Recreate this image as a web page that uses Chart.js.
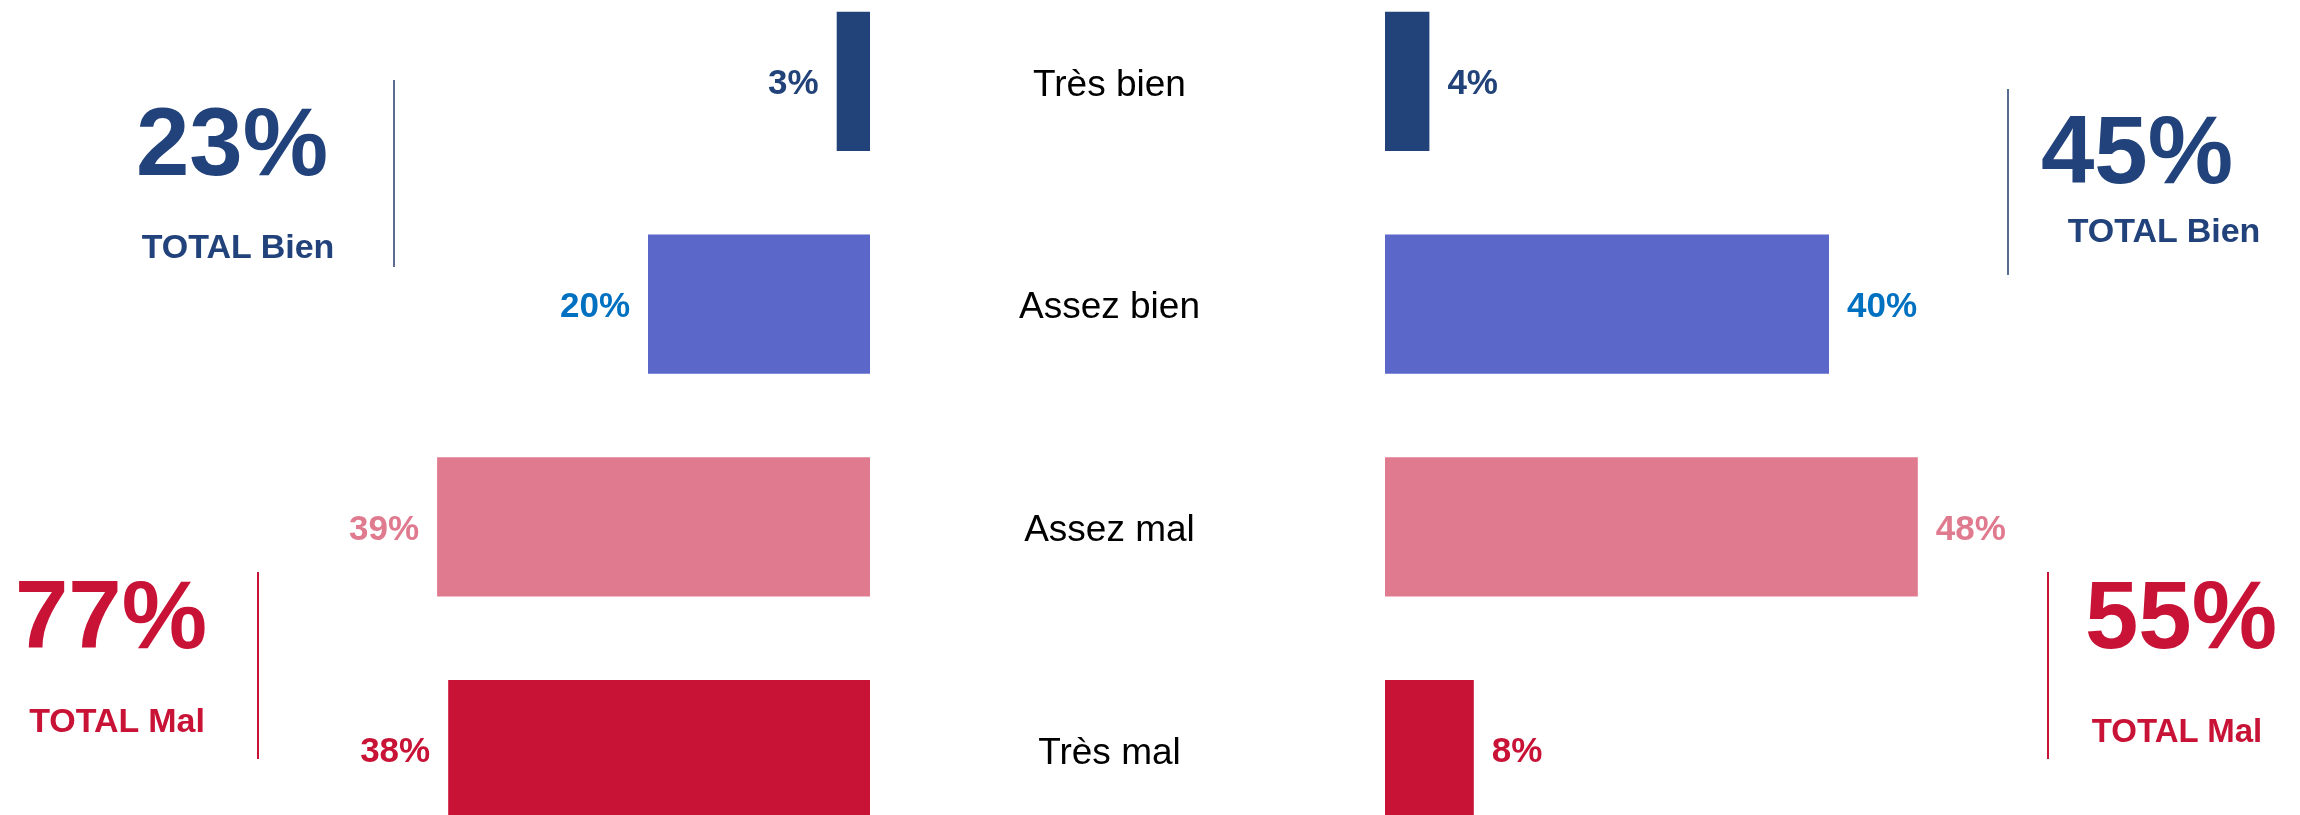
<!DOCTYPE html>
<html lang="fr">
<head>
<meta charset="utf-8">
<title>Bien / Mal</title>
<script src="https://cdn.jsdelivr.net/npm/chart.js@4.4.1/dist/chart.umd.min.js"></script>
<style>
  html, body { margin: 0; padding: 0; background: #fff; }
  body { width: 2300px; height: 815px; position: relative; overflow: hidden; font-family: "Liberation Sans", Arial, sans-serif; }
  canvas { position: absolute; top: -30px; }
  #leftChart { left: 204px; }
  #rightChart { left: 1000px; }
  .total { position: absolute; width: 300px; margin-left: -150px; text-align: center; font-weight: bold; line-height: 1; white-space: nowrap; }
  .big { font-size: 96px; }
  .small { font-size: 34px; }
  .bien { color: #21427a; }
  .mal { color: #c81236; }
  .rule { position: absolute; width: 1.5px; }
</style>
</head>
<body>
<canvas id="leftChart" width="666" height="891"></canvas>
<canvas id="rightChart" width="1051" height="891"></canvas>
<div id="totals"></div>
<script>
const categories = ["Très bien", "Assez bien", "Assez mal", "Très mal"];
const leftValues = [3, 20, 39, 38];
const rightValues = [4, 40, 48, 8];
const totalNames = ["TOTAL Bien", "TOTAL Mal"];
const leftTotals = [23, 77];
const rightTotals = [45, 55];

const barColors = ["#21437a", "#5b68c9", "#e07a8f", "#c81236"];
const labelColors = ["#21437a", "#0070c0", "#e07a8f", "#c81236"];
const fontFamily = "'Liberation Sans', Arial, sans-serif";

Chart.defaults.font.family = fontFamily;

// percent labels next to each bar
const valueLabels = {
  id: "valueLabels",
  afterDatasetsDraw(chart, args, opts) {
    const ctx = chart.ctx;
    const meta = chart.getDatasetMeta(0);
    const values = chart.data.datasets[0].data;
    ctx.save();
    ctx.font = `bold 35px ${fontFamily}`;
    ctx.textBaseline = "middle";
    meta.data.forEach((bar, i) => {
      ctx.fillStyle = labelColors[i];
      if (opts.side === "left") {
        ctx.textAlign = "right";
        ctx.fillText(`${values[i]}%`, bar.x - 18, bar.y + 3);
      } else {
        ctx.textAlign = "left";
        ctx.fillText(`${values[i]}%`, bar.x + 18, bar.y + 3);
      }
    });
    ctx.restore();
  },
};

function makeChart(el, values, side) {
  return new Chart(el, {
    type: "bar",
    data: {
      labels: categories,
      datasets: [
        {
          data: values,
          backgroundColor: barColors,
          borderWidth: 0,
          barPercentage: 0.625,
          categoryPercentage: 1,
        },
      ],
    },
    options: {
      indexAxis: "y",
      responsive: false,
      animation: false,
      layout: { padding: 0 },
      plugins: {
        legend: { display: false },
        tooltip: { enabled: false },
        valueLabels: { side },
      },
      scales: {
        x: { display: false, min: 0, max: 60, reverse: side === "left" },
        y:
          side === "left"
            ? { display: false }
            : {
                grid: { display: false, drawTicks: false },
                border: { display: false },
                ticks: {
                  color: "#000",
                  font: { size: 37 },
                  crossAlign: "center",
                  padding: 185,
                  labelOffset: 4,
                },
                afterFit: s => {
                  // labels sit centred in the gap between the two charts
                  s.width = 385;
                  s.paddingTop = 0;
                  s.paddingBottom = 0;
                },
              },
      },
    },
    plugins: [valueLabels],
  });
}

makeChart(document.getElementById("leftChart"), leftValues, "left");
makeChart(document.getElementById("rightChart"), rightValues, "right");

// big totals with their vertical rules
let totalsBox = document.getElementById("totals");
totalsBox.innerHTML = `
<div class="total big bien" style="left:232px;top:94px">${leftTotals[0]}%</div>
<div class="total small bien" style="left:238px;top:229px">${totalNames[0]}</div>
<div class="rule" style="left:393px;top:80px;height:187px;background:#5a6b92"></div>
<div class="total big mal" style="left:111px;top:567px">${leftTotals[1]}%</div>
<div class="total small mal" style="left:117px;top:703px">${totalNames[1]}</div>
<div class="rule" style="left:257px;top:572px;height:187px;background:#c81236"></div>
<div class="total big bien" style="left:2137px;top:102px">${rightTotals[0]}%</div>
<div class="total small bien" style="left:2164px;top:213px">${totalNames[0]}</div>
<div class="rule" style="left:2007px;top:89px;height:186px;background:#5a6b92"></div>
<div class="total big mal" style="left:2181px;top:567px">${rightTotals[1]}%</div>
<div class="total small mal" style="left:2177px;top:714px;font-size:33px">${totalNames[1]}</div>
<div class="rule" style="left:2047px;top:572px;height:187px;background:#c81236"></div>
`;
</script>
</body>
</html>
